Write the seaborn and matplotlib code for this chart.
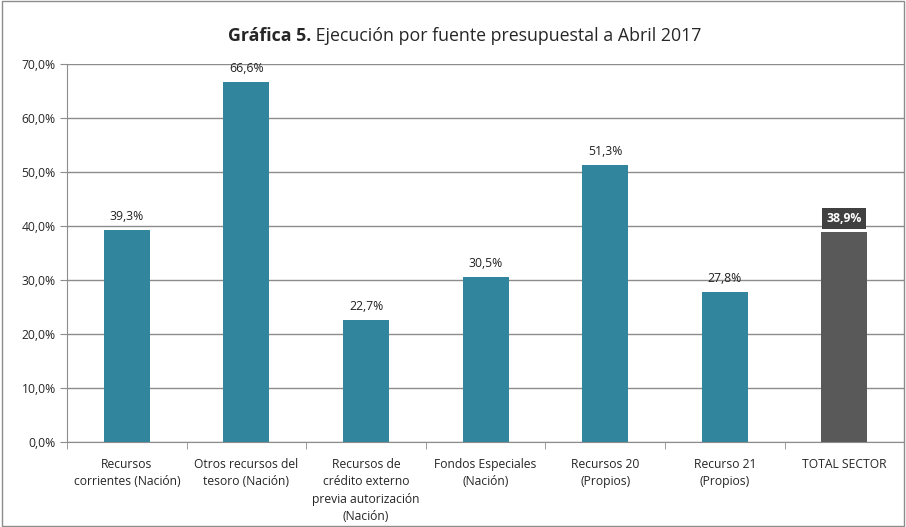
import pandas as pd
import matplotlib
matplotlib.use('Agg')
import matplotlib.pyplot as plt
import seaborn as sns
from matplotlib.patches import Rectangle
from matplotlib.ticker import FuncFormatter, FixedLocator

# Data
categorias = ['Recursos\ncorrientes (Nación)', 'Otros recursos del\ntesoro (Nación)',
              'Recursos de\ncrédito externo\nprevia autorización\n(Nación)',
              'Fondos Especiales\n(Nación)', 'Recursos 20\n(Propios)',
              'Recurso 21\n(Propios)', 'TOTAL SECTOR']
ejecucion = [39.3, 66.6, 22.7, 30.5, 51.3, 27.8, 38.9]
colores = ['#31869D'] * 6 + ['#595959']

df = pd.DataFrame({'Categoria': categorias, 'Ejecucion': ejecucion})

sns.set_style('white')
plt.rcParams['font.family'] = ['Open Sans', 'DejaVu Sans']

fig = plt.figure(figsize=(9.06, 5.27), dpi=100)
ax = fig.add_axes([0.074, 0.161, 0.924, 0.7175])

sns.barplot(x='Categoria', y='Ejecucion', data=df, hue='Categoria',
            palette=colores, legend=False, width=0.385, ax=ax, saturation=1,
            linewidth=0)

ax.set_ylim(0, 70)
ax.set_xlim(-0.5, len(categorias) - 0.5)
ax.set_yticks(range(0, 71, 10))
ax.yaxis.set_major_formatter(FuncFormatter(lambda v, p: f'{v:.1f}%'.replace('.', ',')))
ax.grid(axis='y', color='#8c8c8c', linewidth=1)
ax.set_axisbelow(True)
for s in ['top', 'right']:
    ax.spines[s].set_visible(False)
ax.spines['left'].set_color('#8c8c8c')
ax.spines['bottom'].set_color('#8c8c8c')
ax.set_xlabel('')
ax.set_ylabel('')
ax.tick_params(axis='y', left=True, length=5, color='#8c8c8c', labelsize=8.7, pad=3)
ax.tick_params(axis='x', bottom=False, labelsize=8.7, pad=8)
ax.xaxis.set_minor_locator(FixedLocator([i - 0.5 for i in range(len(categorias) + 1)]))
ax.tick_params(axis='x', which='minor', bottom=True, length=5, color='#8c8c8c')
for lbl in ax.get_xticklabels():
    lbl.set_linespacing(1.42)

# Data labels
for i, v in enumerate(ejecucion):
    txt = f'{v:.1f}%'.replace('.', ',')
    if i == len(ejecucion) - 1:
        ax.annotate(txt, (i, v), xytext=(0, 5), textcoords='offset points',
                    ha='center', va='bottom', fontsize=8.8, fontweight='bold', color='white',
                    bbox=dict(boxstyle='square,pad=0.35', fc='#404040', ec='none'))
    else:
        ax.annotate(txt, (i, v), xytext=(0, 5), textcoords='offset points',
                    ha='center', va='bottom', fontsize=8.8, color='#222222')

# Title with bold prefix
fig.canvas.draw()
r = fig.canvas.get_renderer()
t1 = fig.text(0, 0.932, 'Gráfica 5.', fontsize=12.8, fontweight='bold', va='center')
t2 = fig.text(0, 0.932, ' Ejecución por fuente presupuestal a Abril 2017', fontsize=12.8, va='center')
w1 = t1.get_window_extent(r).width / fig.bbox.width
w2 = t2.get_window_extent(r).width / fig.bbox.width
x0 = 0.513 - (w1 + w2) / 2
t1.set_x(x0)
t2.set_x(x0 + w1)

# Outer border
fig.patches.append(Rectangle((0.002, 0.002), 0.996, 0.996, transform=fig.transFigure,
                             fill=False, ec='#8c8c8c', lw=1))

plt.savefig('out.png', dpi=100)
